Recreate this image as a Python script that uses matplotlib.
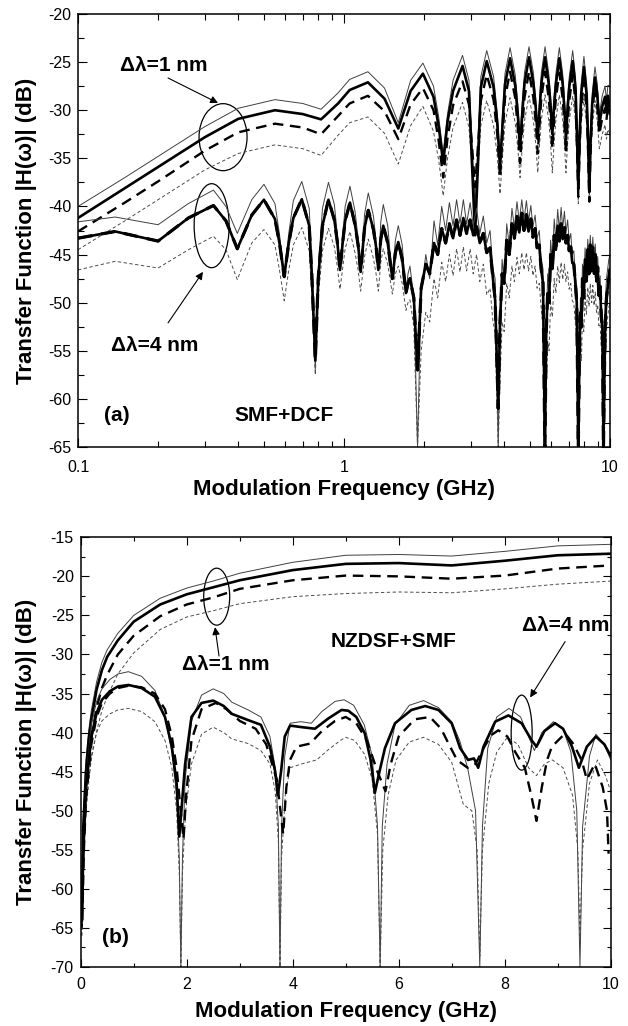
import numpy as np
import matplotlib
matplotlib.use("Agg")
import matplotlib.pyplot as plt
from matplotlib.patches import Ellipse
from matplotlib.ticker import MultipleLocator, LogLocator, NullFormatter

plt.rcParams["font.family"] = ["Liberation Sans", "DejaVu Sans"]
plt.rcParams["axes.unicode_minus"] = False

# ── Panel (a) SMF+DCF, delta-lambda = 1 nm (shared frequency grid, GHz) ─────
XA1 = [0.10, 0.15, 0.20, 0.30, 0.40, 0.55, 0.70, 0.82, 0.95, 1.05,
       1.23, 1.42, 1.60, 1.78, 1.98, 2.17, 2.27, 2.36, 2.45, 2.57,
       2.79, 2.95, 3.02, 3.11, 3.20, 3.27, 3.44, 3.65, 3.77, 3.86,
       3.95, 4.03, 4.21, 4.40, 4.50, 4.59, 4.68, 4.77, 4.96, 5.15,
       5.26, 5.35, 5.44, 5.52, 5.70, 5.88, 5.98, 6.07, 6.16, 6.26,
       6.45, 6.64, 6.74, 6.83, 6.92, 7.03, 7.24, 7.42, 7.51, 7.60,
       7.69, 7.79, 7.98, 8.17, 8.27, 8.36, 8.45, 8.57, 8.78, 8.95,
       9.12, 9.35, 9.58, 9.70, 9.82, 10.0]
A1_THIN = [-40.0, -37.0, -34.8, -31.7, -29.8, -28.9, -29.3, -29.9, -28.2, -26.8,
           -26.0, -27.7, -31.3, -26.9, -25.1, -27.5, -30.7, -34.5, -30.4, -26.9,
           -24.3, -26.9, -32.8, -40.0, -32.6, -26.5, -23.8, -26.5, -30.3, -35.0,
           -30.2, -26.2, -23.5, -26.3, -29.3, -33.0, -29.2, -26.1, -23.4, -26.1,
           -28.8, -32.0, -28.8, -26.1, -23.4, -26.1, -28.5, -31.5, -28.6, -26.2,
           -23.5, -26.2, -28.8, -32.0, -28.9, -26.5, -23.8, -26.6, -31.3, -37.0,
           -31.7, -27.3, -24.4, -27.3, -31.9, -37.5, -32.4, -28.3, -25.5, -27.2,
           -30.5, -28.5, -27.5, -29.0, -27.4, -27.5]
A1_THICK = [-41.2, -38.1, -35.9, -32.8, -30.9, -30.0, -30.4, -30.95, -29.3, -27.9,
            -27.1, -28.8, -31.9, -28.0, -26.2, -28.6, -31.7, -35.5, -31.2, -28.0,
            -25.4, -28.0, -34.8, -43.0, -34.6, -27.6, -24.9, -27.6, -31.4, -36.0,
            -31.2, -27.3, -24.6, -27.4, -30.4, -34.0, -30.3, -27.2, -24.5, -27.2,
            -29.8, -33.0, -29.8, -27.2, -24.5, -27.2, -29.6, -32.5, -29.7, -27.3,
            -24.6, -27.3, -29.9, -33.0, -30.0, -27.6, -24.9, -27.7, -32.3, -38.0,
            -32.6, -28.4, -25.5, -28.4, -32.9, -38.5, -33.4, -29.4, -26.6, -28.3,
            -31.5, -29.6, -28.6, -30.2, -28.5, -30.0]
A1_DASH = [-42.6, -39.6, -37.4, -34.2, -32.3, -31.4, -31.8, -32.5, -30.6, -29.3,
           -28.5, -30.1, -33.0, -29.4, -27.7, -30.0, -33.2, -37.0, -32.9, -29.5,
           -27.0, -29.4, -33.3, -38.0, -33.1, -29.0, -26.3, -28.9, -32.5, -37.0,
           -32.4, -28.7, -26.0, -28.7, -31.8, -35.5, -31.8, -28.7, -26.0, -28.7,
           -31.3, -34.5, -31.3, -28.7, -26.0, -28.7, -31.1, -34.0, -31.1, -28.8,
           -26.1, -28.8, -31.4, -34.5, -31.5, -29.0, -26.3, -29.2, -33.6, -39.0,
           -33.9, -29.8, -27.0, -29.8, -34.2, -39.5, -34.4, -30.2, -27.5, -29.5,
           -32.5, -30.8, -29.8, -31.0, -29.5, -30.5]
A1_DOT = [-44.5, -41.5, -39.3, -36.2, -34.5, -33.6, -34.0, -34.7, -32.6, -31.3,
          -30.7, -32.4, -35.6, -31.6, -29.6, -32.2, -35.2, -38.9, -35.0, -31.8,
          -29.2, -31.8, -35.5, -40.0, -35.4, -31.6, -29.0, -31.6, -34.8, -38.7,
          -34.6, -31.3, -28.7, -31.3, -33.9, -37.0, -33.8, -31.1, -28.5, -31.1,
          -33.5, -36.5, -33.4, -31.0, -28.4, -31.0, -33.5, -36.5, -33.5, -31.0,
          -28.4, -31.0, -33.5, -36.5, -33.6, -31.1, -28.5, -31.2, -35.0, -39.7,
          -35.2, -31.5, -28.8, -31.5, -35.1, -39.5, -35.3, -31.8, -29.0, -31.0,
          -34.0, -32.5, -31.5, -33.0, -32.0, -32.5]

# ── Panel (a) SMF+DCF, delta-lambda = 4 nm ──────────────────────────────────
XA4 = [0.10, 0.138, 0.20, 0.26, 0.323, 0.36, 0.397, 0.45, 0.50, 0.55,
       0.572, 0.596, 0.62, 0.645, 0.694, 0.74, 0.758, 0.78, 0.80, 0.83,
       0.874, 0.92, 0.943, 0.966, 0.99, 1.01, 1.053, 1.10, 1.13, 1.155,
       1.178, 1.195, 1.234, 1.29, 1.32, 1.346, 1.375, 1.405, 1.46, 1.52,
       1.56, 1.60, 1.655, 1.71, 1.74, 1.77, 1.83, 1.89,
       1.95, 2.03, 2.10, 2.18, 2.25, 2.33, 2.41, 2.49, 2.57, 2.65,
       2.73, 2.81, 2.89, 2.98, 3.06, 3.15, 3.24, 3.34, 3.44, 3.54,
       3.63, 3.70, 3.80,
       3.86, 3.93, 4.00, 4.09, 4.18, 4.28, 4.37, 4.47, 4.56, 4.66,
       4.75, 4.85, 4.94, 5.04, 5.13, 5.23, 5.32, 5.42, 5.51, 5.60, 5.69,
       5.76, 5.83, 5.90, 5.98, 6.07, 6.17, 6.26, 6.36, 6.45, 6.55,
       6.64, 6.74, 6.83, 6.93, 7.02, 7.12, 7.21, 7.31, 7.40, 7.50, 7.60,
       7.67, 7.74, 7.81, 7.88, 7.97, 8.06, 8.15, 8.25, 8.34, 8.43,
       8.53, 8.62, 8.71, 8.80, 8.90, 8.99, 9.08, 9.18, 9.27, 9.36, 9.45,
       9.52, 9.60, 9.70, 9.80, 9.90, 10.0]
A4_THIN = [-41.6, -41.1, -41.9, -39.7, -38.3, -40.0, -42.8, -39.3, -37.7, -39.7,
           -42.9, -46.9, -42.8, -39.4, -37.4, -40.2, -46.5, -57.0, -46.5, -40.2,
           -37.5, -39.8, -42.8, -46.3, -43.0, -40.0, -37.9, -40.5, -43.3, -46.6,
           -43.5, -40.8, -38.6, -41.0, -43.6, -46.6, -41.6, -39.8, -42.0, -47.6,
           -43.5, -42.0, -44.0, -49.0, -47.0, -46.2, -49.5, -65.0,
           -49.0, -45.0, -47.5, -41.5, -44.0, -40.0, -42.5, -39.6, -42.0, -39.3,
           -41.8, -39.3, -41.8, -39.6, -42.0, -40.2, -42.8, -41.0, -43.8, -42.5,
           -46.5, -47.5, -65.0,
           -52.0, -45.5, -48.0, -41.8, -44.0, -40.2, -42.2, -39.5, -41.6, -39.3,
           -41.4, -39.4, -41.5, -39.9, -42.1, -40.9, -43.3, -42.5, -45.5, -46.5, -65.0,
           -53.0, -47.0, -49.5, -43.5, -45.8, -41.3, -43.5, -40.3, -42.5, -40.1,
           -42.3, -40.5, -42.7, -41.4, -43.6, -42.8, -45.0, -44.6, -47.0, -48.5, -65.0,
           -56.0, -49.5, -51.5, -46.0, -48.5, -44.3, -46.6, -43.4, -45.8, -43.0,
           -45.5, -43.2, -45.8, -43.9, -46.6, -45.2, -48.0, -47.2, -50.5, -51.0, -65.0,
           -56.0, -50.0, -47.5, -46.5, -45.5, -45.0]
A4_THICK = [-43.3, -42.6, -43.6, -41.2, -39.9, -41.5, -44.4, -40.9, -39.3, -41.3,
            -43.8, -47.3, -43.8, -41.2, -39.25, -42.0, -47.5, -56.0, -47.5, -42.0,
            -39.3, -41.4, -43.6, -46.6, -43.6, -41.5, -39.6, -41.9, -44.0, -46.8,
            -44.2, -42.2, -40.4, -42.4, -44.2, -46.6, -43.4, -42.0, -43.8, -47.5,
            -44.8, -43.7, -45.5, -49.0, -48.0, -47.5, -49.5, -57.0,
            -48.5, -46.0, -47.0, -43.8, -45.0, -42.3, -43.8, -41.8, -43.3, -41.4,
            -43.0, -41.2, -42.8, -41.4, -43.0, -42.1, -43.8, -42.8, -44.8, -44.3,
            -47.5, -49.7, -61.0,
            -52.0, -47.0, -48.0, -43.5, -45.0, -41.8, -43.3, -41.0, -42.7, -40.7,
            -42.5, -40.8, -42.6, -41.3, -43.2, -42.3, -44.3, -44.0, -46.5, -48.0, -65.0,
            -53.0, -49.0, -50.0, -45.0, -46.5, -43.0, -44.5, -42.0, -43.6, -41.8,
            -43.4, -42.2, -43.8, -43.0, -44.6, -44.2, -45.8, -46.0, -47.8, -50.0, -65.0,
            -56.0, -51.0, -52.5, -47.5, -49.5, -45.5, -47.8, -44.5, -47.0, -44.0,
            -46.7, -44.2, -47.0, -45.0, -47.8, -46.3, -49.3, -48.3, -51.5, -52.5, -65.0,
            -58.0, -52.0, -49.5, -48.5, -47.5, -46.5]
A4_DOT = [-46.6, -45.7, -46.4, -44.5, -43.1, -44.5, -47.6, -43.8, -42.4, -44.0,
          -46.6, -49.8, -46.6, -44.0, -42.2, -44.6, -49.5, -57.5, -49.5, -44.6,
          -42.3, -44.2, -46.2, -48.6, -46.3, -44.4, -42.6, -44.8, -46.6, -48.8,
          -46.8, -45.2, -43.4, -45.4, -47.0, -48.8, -45.8, -44.4, -46.0, -49.1,
          -47.0, -46.2, -48.0, -50.8, -50.0, -49.7, -52.5, -65.0,
          -55.0, -51.0, -52.0, -47.5, -49.5, -45.8, -47.8, -45.0, -47.2, -44.4,
          -46.8, -44.2, -46.7, -44.4, -47.0, -45.0, -47.8, -46.0, -49.2, -48.5,
          -52.0, -53.0, -65.0,
          -58.0, -52.0, -53.0, -48.0, -49.5, -46.2, -47.8, -45.3, -47.0, -44.8,
          -46.6, -44.8, -46.7, -45.2, -47.2, -46.2, -48.5, -48.0, -50.5, -52.5, -65.0,
          -59.0, -54.0, -55.0, -50.0, -51.5, -47.5, -49.0, -46.2, -47.9, -45.8,
          -47.6, -46.0, -47.8, -46.8, -48.6, -48.0, -49.8, -50.0, -52.0, -54.0, -65.0,
          -59.0, -55.0, -56.0, -51.5, -53.0, -49.5, -51.2, -48.4, -50.4, -48.0,
          -50.0, -48.2, -50.3, -48.9, -51.0, -50.2, -52.4, -52.2, -54.5, -56.0, -65.0,
          -65.0, -57.0, -53.0, -51.5, -50.5, -50.0]

# ── Panel (b) NZDSF+SMF, delta-lambda = 1 nm ────────────────────────────────
XB1 = [0.02, 0.05, 0.10, 0.15, 0.2, 0.3, 0.4, 0.5, 0.7, 1.0,
       1.5, 2.0, 2.5, 3.0, 4.0, 5.0, 6.0, 7.0, 8.0, 9.0, 10.0]
B1_THIN = [-63, -50, -43.5, -39.8, -37.2, -33.5, -31.0, -29.4, -27.3, -25.0,
           -22.8, -21.5, -20.6, -19.6, -18.2, -17.3, -17.2, -17.4, -16.8, -16.1, -15.9]
B1_THICK = [-64, -52, -45, -41, -38.3, -34.5, -32.0, -30.3, -28.2, -25.8,
            -23.6, -22.3, -21.4, -20.5, -19.2, -18.4, -18.3, -18.6, -18.0, -17.3, -17.1]
B1_DASH = [-65, -54, -47, -43.5, -40.8, -36.8, -34.3, -32.6, -30.0, -27.6,
           -25.1, -23.6, -22.7, -21.6, -20.5, -19.9, -20.0, -20.3, -19.9, -19.0, -18.6]
B1_DOT = [-66, -55, -49.5, -46, -43.5, -39.8, -37.2, -35.4, -32.5, -29.8,
          -26.8, -25.2, -24.4, -23.5, -22.6, -22.2, -22.0, -22.1, -21.6, -21.0, -20.6]

# ── Panel (b) NZDSF+SMF, delta-lambda = 4 nm ────────────────────────────────
XB4_THIN = [0.02, 0.05, 0.10, 0.20, 0.30, 0.40, 0.55, 0.70, 0.90, 1.15,
            1.40, 1.59, 1.72, 1.81, 1.86, 1.89, 1.92, 1.97, 2.09, 2.28,
            2.50, 2.70, 2.85, 3.16, 3.40, 3.57, 3.67, 3.73, 3.76, 3.79,
            3.85, 3.95, 4.15, 4.35, 4.55, 4.80, 4.97, 5.15, 5.35, 5.50,
            5.60, 5.65, 5.69, 5.78, 5.93, 6.20, 6.47, 6.75, 7.00, 7.15,
            7.30, 7.45, 7.53, 7.58, 7.68, 7.85, 8.08, 8.30, 8.45, 8.56,
            8.70, 8.92, 9.10, 9.25, 9.36, 9.42, 9.47, 9.60, 9.72, 9.88, 10.0]
B4_THIN = [-64, -54, -46, -39, -36, -34.4, -33.2, -32.5, -32.2, -32.8,
           -34.6, -38.0, -42.5, -48, -56, -70, -56, -46, -38.5, -35.2,
           -34.4, -35.0, -36.1, -37.1, -38.0, -40.5, -44.5, -52, -70, -52,
           -43, -38.8, -38.6, -38.8, -37.3, -36.0, -35.8, -36.5, -39.0, -43,
           -52, -70, -52, -44, -39.0, -36.5, -35.9, -36.8, -38.6, -41,
           -44.5, -50, -70, -52, -42, -38.0, -36.9, -38.0, -40.5, -42.3,
           -40.0, -38.6, -39.5, -42.5, -50, -70, -52, -43, -40.2, -41.5, -43.5]
XB4_THICK = [0.02, 0.05, 0.10, 0.20, 0.30, 0.40, 0.55, 0.70, 0.90, 1.15,
             1.40, 1.59, 1.72, 1.81, 1.86, 1.90, 1.97, 2.09, 2.28, 2.50,
             2.70, 2.85, 3.16, 3.40, 3.57, 3.67, 3.72, 3.78, 3.85, 3.95,
             4.17, 4.42, 4.67, 4.92, 5.05, 5.20, 5.36, 5.47, 5.55, 5.62,
             5.74, 5.93, 6.24, 6.50, 6.75, 7.00, 7.16, 7.31, 7.42, 7.50,
             7.60, 7.82, 8.07, 8.32, 8.51, 8.60, 8.75, 8.95, 9.10, 9.27,
             9.40, 9.55, 9.72, 9.88, 10.0]
B4_THICK = [-64, -55, -47, -40.5, -37.5, -35.8, -34.7, -34.1, -33.9, -34.3,
            -35.4, -38.0, -41.8, -46.5, -53.3, -50, -44, -38.0, -36.2, -35.9,
            -36.6, -37.6, -38.4, -39.0, -41.8, -45.0, -48.0, -45, -40.5, -39.1,
            -39.3, -39.5, -38.2, -37.1, -37.2, -38.0, -40.1, -43.5, -47.7, -45.5,
            -42.0, -38.8, -37.1, -36.6, -37.1, -38.8, -42.0, -43.5, -43.3, -44.5,
            -41.8, -38.6, -37.8, -38.8, -41.0, -41.8, -39.8, -38.8, -39.5, -41.8,
            -44.5, -41.8, -40.5, -41.5, -43.0]
XB4_DASH = [0.03, 0.06, 0.10, 0.20, 0.30, 0.40, 0.55, 0.70, 0.90, 1.15,
            1.40, 1.59, 1.72, 1.81, 1.90, 1.94, 1.99, 2.09, 2.28, 2.55,
            2.75, 3.00, 3.30, 3.50, 3.70, 3.82, 3.88, 3.95, 4.07, 4.33,
            4.55, 4.80, 5.00, 5.20, 5.40, 5.60, 5.75, 5.85, 6.00, 6.30,
            6.59, 6.80, 6.94, 7.10, 7.30, 7.45, 7.60, 7.75, 7.88, 8.05,
            8.20, 8.38, 8.50, 8.60, 8.70, 8.80, 8.89, 9.14, 9.30, 9.45,
            9.55, 9.70, 9.85, 9.93, 9.96]
B4_DASH = [-64, -55, -48.5, -41.5, -38.0, -36.2, -35.0, -34.3, -34.0, -34.2,
           -35.0, -37.0, -40.5, -44.5, -51.0, -53.6, -48.0, -41.0, -37.0, -36.2,
           -37.0, -38.5, -39.5, -41.5, -46.0, -53.0, -47.0, -43.5, -41.8, -41.4,
           -39.8, -38.5, -38.0, -38.8, -41.0, -45.0, -47.5, -44.0, -40.5, -38.3,
           -38.0, -39.5, -41.4, -43.5, -44.5, -44.0, -42.0, -40.3, -39.7, -40.5,
           -42.5, -44.5, -48.0, -51.3, -47.0, -43.5, -41.8, -40.1, -41.5, -43.5,
           -46.0, -44.0, -47.0, -50.0, -55.5]
XB4_DOT = [0.02, 0.05, 0.10, 0.20, 0.30, 0.40, 0.55, 0.70, 0.90, 1.15,
           1.40, 1.59, 1.72, 1.81, 1.86, 1.89, 1.92, 1.98, 2.09, 2.28,
           2.50, 2.70, 2.85, 3.16, 3.40, 3.57, 3.67, 3.73, 3.76, 3.79,
           3.86, 3.95, 4.17, 4.45, 4.67, 4.90, 5.00, 5.17, 5.36, 5.50,
           5.60, 5.65, 5.70, 5.80, 5.95, 6.20, 6.47, 6.75, 7.00, 7.15,
           7.22, 7.38, 7.48, 7.53, 7.58, 7.70, 7.85, 8.05, 8.25, 8.45,
           8.60, 8.75, 8.90, 9.10, 9.28, 9.38, 9.42, 9.47, 9.60, 9.75,
           9.90, 10.0]
B4_DOT = [-66, -58, -50, -43, -40, -38.5, -37.6, -37.1, -36.9, -37.3,
          -38.6, -41.0, -44.5, -50, -58, -70, -58, -50, -44, -40.2,
          -39.3, -40.0, -40.8, -41.4, -42.3, -44.0, -47.5, -54, -70, -56,
          -48, -44.5, -44.0, -43.5, -42.2, -41.0, -40.6, -41.0, -42.8, -46,
          -53, -70, -55, -48, -43.5, -41.2, -40.6, -41.5, -43.8, -47.5,
          -49.2, -50.0, -55, -68.6, -55, -46.5, -42.5, -40.6, -41.5, -44.5,
          -45.5, -44.0, -43.5, -44.5, -48, -55, -66.2, -55, -46.5, -43.5,
          -45.5, -47.5]

# ── Styles ──────────────────────────────────────────────────────────────────
THIN = dict(color="0.25", lw=0.7)
THICK = dict(color="k", lw=1.9)
DASH = dict(color="k", lw=1.7, dashes=(4.5, 2.8))
DOT = dict(color="0.3", lw=0.7, dashes=(3.5, 2.5))
BOLD = dict(fontsize=15, fontweight="bold")

FW, FH = 628, 1026
fig = plt.figure(figsize=(FW / 100, FH / 100), dpi=100)
ax_a = fig.add_axes([78 / FW, 1 - 447 / FH, 532 / FW, 433 / FH])
ax_b = fig.add_axes([80.7 / FW, 1 - 967 / FH, 530 / FW, 429.7 / FH])


def ring(ax, f, db, w_px, h_px):
    # ellipse sized in pixels, centred on a data point
    x, y = (ax.transData + ax.transAxes.inverted()).transform((f, db))
    bb = ax.get_position()
    ax.add_patch(Ellipse((x, y), w_px / (bb.width * FW), h_px / (bb.height * FH),
                         transform=ax.transAxes, fill=False, lw=0.9, color="k"))


def arrow(ax, tail, head):
    ax.annotate("", xy=head, xytext=tail,
                arrowprops=dict(arrowstyle="-|>", lw=0.8, color="k",
                                mutation_scale=11, shrinkA=0, shrinkB=0))


# ── Panel (a) ───────────────────────────────────────────────────────────────
ax = ax_a
ax.set_xscale("log")
ax.set_xlim(0.1, 10)
ax.set_ylim(-65, -20)
ax.plot(XA1, A1_THIN, **THIN)
ax.plot(XA1, A1_DOT, **DOT)
ax.plot(XA1, A1_DASH, **DASH)
ax.plot(XA1, A1_THICK, **THICK)
ax.plot(XA4, A4_THIN, **THIN)
ax.plot(XA4, A4_DOT, **DOT)
ax.plot(XA4, A4_THICK, color="k", lw=2.3, dashes=(4.5, 2.8))
ax.plot(XA4, A4_THICK, **THICK)

ax.set_xticks([0.1, 1, 10])
ax.set_xticklabels(["0.1", "1", "10"])
ax.xaxis.set_minor_locator(LogLocator(base=10, subs=[2, 3, 4, 5, 6, 7, 8, 9]))
ax.xaxis.set_minor_formatter(NullFormatter())
ax.yaxis.set_major_locator(MultipleLocator(5))
ax.yaxis.set_minor_locator(MultipleLocator(2.5))
ax.tick_params(which="both", direction="in", top=True, right=True, width=0.8,
               labelsize=11.5)
ax.tick_params(which="major", length=6.5)
ax.tick_params(which="minor", length=4)
ax.tick_params(axis="x", pad=9)
ax.tick_params(axis="y", pad=5)

ax.text(0.2105, -25.4, "Δλ=1 nm", ha="center", va="center", **BOLD)
ring(ax, 0.351, -32.8, 48, 67)
arrow(ax, (0.218, -26.65), (0.336, -29.25))
ring(ax, 0.318, -42.0, 35, 84)
arrow(ax, (0.218, -52.1), (0.295, -46.8))
ax.text(0.195, -54.4, "Δλ=4 nm", ha="center", va="center", **BOLD)
ax.text(0.140, -61.7, "(a)", ha="center", va="center", **BOLD)
ax.text(0.595, -61.7, "SMF+DCF", ha="center", va="center", **BOLD)

# ── Panel (b) ───────────────────────────────────────────────────────────────
ax = ax_b
ax.set_xlim(0, 10)
ax.set_ylim(-70, -15)
ax.plot(XB1, B1_THIN, **THIN)
ax.plot(XB1, B1_DOT, **DOT)
ax.plot(XB1, B1_DASH, **DASH)
ax.plot(XB1, B1_THICK, **THICK)
ax.plot(XB4_THIN, B4_THIN, **THIN)
ax.plot(XB4_DOT, B4_DOT, **DOT)
ax.plot(XB4_DASH, B4_DASH, **DASH)
ax.plot(XB4_THICK, B4_THICK, **THICK)

ax.xaxis.set_major_locator(MultipleLocator(2))
ax.xaxis.set_minor_locator(MultipleLocator(1))
ax.yaxis.set_major_locator(MultipleLocator(5))
ax.yaxis.set_minor_locator(MultipleLocator(2.5))
ax.tick_params(which="both", direction="in", top=True, right=True, width=0.8,
               labelsize=11.5)
ax.tick_params(which="major", length=5.5)
ax.tick_params(which="minor", length=3.2)
ax.tick_params(axis="x", pad=7)
ax.tick_params(axis="y", pad=5)

ring(ax, 2.566, -22.6, 26, 57)
arrow(ax, (2.61, -30.2), (2.534, -26.5))
ax.text(2.74, -31.3, "Δλ=1 nm", ha="center", va="center", **BOLD)
ax.text(5.91, -28.4, "NZDSF+SMF", ha="center", va="center", **BOLD)
ax.text(9.16, -26.35, "Δλ=4 nm", ha="center", va="center", **BOLD)
arrow(ax, (9.14, -28.35), (8.48, -35.5))
ring(ax, 8.32, -40.0, 21, 75)
ax.text(0.647, -66.2, "(b)", ha="center", va="center", **BOLD)

for a in (ax_a, ax_b):
    for s in a.spines.values():
        s.set_linewidth(1.1)

# axis titles placed by pixel position
LAB = dict(fontsize=16, fontweight="bold", ha="center", va="center")
fig.text(27 / FW, 1 - 230.5 / FH, "Transfer Function |H(ω)| (dB)", rotation=90, **LAB)
fig.text(27 / FW, 1 - 752 / FH, "Transfer Function |H(ω)| (dB)", rotation=90, **LAB)
fig.text(344 / FW, 1 - 490 / FH, "Modulation Frequency (GHz)", **LAB)
fig.text(346 / FW, 1 - 1012 / FH, "Modulation Frequency (GHz)", **LAB)

fig.savefig("out.png", dpi=100)
